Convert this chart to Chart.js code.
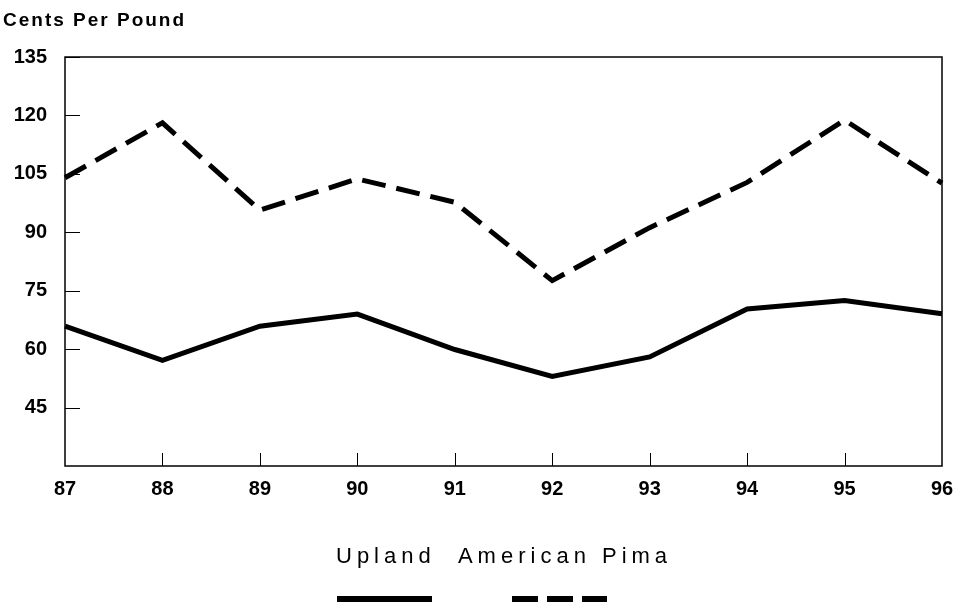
<!DOCTYPE html>
<html>
<head>
<meta charset="utf-8">
<script src="https://cdn.jsdelivr.net/npm/chart.js@4.4.1/dist/chart.umd.min.js"></script>
<style>
  html, body { margin: 0; padding: 0; background: #fff; }
  #wrap { position: relative; width: 958px; height: 602px; }
</style>
</head>
<body>
<div id="wrap"><canvas id="chart" width="958" height="602"></canvas></div>
<script>
// === COTTON PRICES, CENTS PER POUND ===

const years      = ["87", "88", "89", "90", "91", "92", "93", "94", "95", "96"];
const uplandData = [65.9, 57.1, 65.9, 69.0, 59.9, 53.0, 58.0, 70.3, 72.5, 69.1];
const pimaData   = [104.0, 118.1, 95.7, 103.7, 97.7, 77.6, 91.2, 102.8, 118.8, 102.6];
const yTicks     = [45, 60, 75, 90, 105, 120, 135];

const FONT = "'Liberation Sans', Arial, Helvetica, sans-serif";
const INK  = "#000";

// frame, inward tick marks, unit label and the odd two-row legend
const framePlugin = {
  id: "frame",
  afterDraw: (chart) => {
    const { ctx, chartArea: a, scales } = chart;
    ctx.save();
    ctx.strokeStyle = INK;
    ctx.lineWidth = 1.5;
    ctx.strokeRect(a.left, a.top, a.right - a.left, a.bottom - a.top);

    ctx.lineWidth = 1;
    ctx.beginPath();
    scales.y.ticks.forEach((t, i) => {
      const y = Math.round(scales.y.getPixelForTick(i)) + 0.5;
      ctx.moveTo(a.left, y);
      ctx.lineTo(a.left + 15, y);
    });
    scales.x.ticks.forEach((t, i) => {
      if (i === 0 || i === scales.x.ticks.length - 1) return;
      const x = Math.round(scales.x.getPixelForTick(i)) + 0.5;
      ctx.moveTo(x, a.bottom);
      ctx.lineTo(x, a.bottom - 13);
    });
    ctx.stroke();

    ctx.fillStyle = INK;
    ctx.font = "bold 19px " + FONT;
    ctx.letterSpacing = "2px";
    ctx.textAlign = "left";
    ctx.textBaseline = "alphabetic";
    ctx.fillText("Cents Per Pound", 3, 26);

    // legend: names on one row, line samples below
    const names = chart.data.datasets.map((d) => d.label).join("  ");
    ctx.font = "22px " + FONT;
    ctx.letterSpacing = "5px";
    ctx.fillText(names, 336, 563);
    ctx.letterSpacing = "0px";

    const samples = [[337, 432], [512, 607]];
    chart.data.datasets.forEach((d, i) => {
      ctx.lineWidth = 8;
      ctx.lineCap = "butt";
      ctx.setLineDash(d.label === "American Pima" ? [26, 9] : []);
      ctx.beginPath();
      ctx.moveTo(samples[i][0], 600);
      ctx.lineTo(samples[i][1], 600);
      ctx.stroke();
    });
    ctx.restore();
  },
};

new Chart(document.getElementById("chart"), {
  type: "line",
  data: {
    labels: years,
    datasets: [
      {
        label: "Upland",
        data: uplandData,
        borderColor: INK,
        borderWidth: 5,
        pointRadius: 0,
        tension: 0,
      },
      {
        label: "American Pima",
        data: pimaData,
        borderColor: INK,
        borderWidth: 5,
        borderDash: [24, 11],
        pointRadius: 0,
        tension: 0,
      },
    ],
  },
  options: {
    responsive: false,
    animation: false,
    layout: { padding: { top: 57, right: 16, left: 0, bottom: 0 } },
    plugins: {
      legend: { display: false },
      tooltip: { enabled: false },
    },
    scales: {
      x: {
        offset: false,
        afterFit: (s) => {
          s.height = 136;
          s.paddingLeft = 0;
          s.paddingRight = 0;
        },
        grid: { display: false, drawTicks: false },
        border: { display: false },
        ticks: {
          color: INK,
          padding: 11,
          maxRotation: 0,
          font: { size: 20, weight: "bold", family: FONT },
        },
      },
      y: {
        min: 30,
        max: 135,
        afterFit: (s) => { s.width = 65; },
        afterBuildTicks: (s) => { s.ticks = yTicks.map((v) => ({ value: v })); },
        grid: { display: false, drawTicks: false },
        border: { display: false },
        ticks: {
          color: INK,
          padding: 18,
          font: { size: 20, weight: "bold", family: FONT },
        },
      },
    },
  },
  plugins: [framePlugin],
});
</script>
</body>
</html>
